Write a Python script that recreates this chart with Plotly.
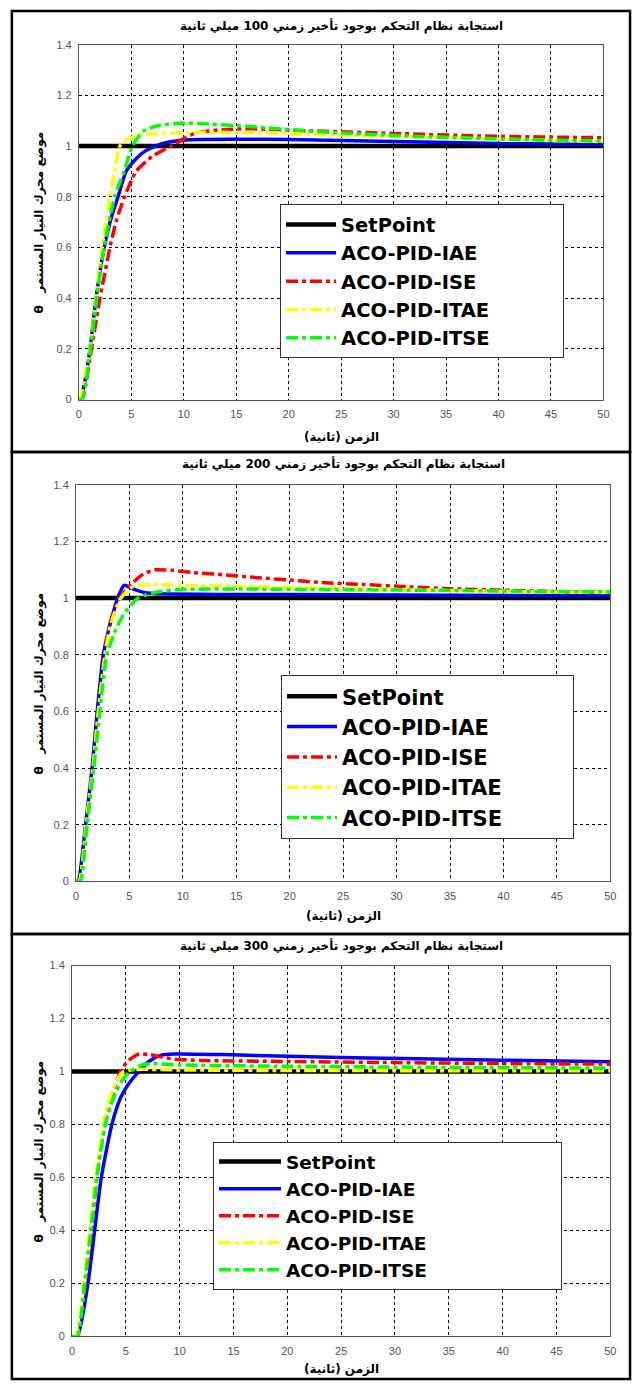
import plotly.graph_objects as go

# ---------------- data ----------------
titles = ["استجابة نظام التحكم بوجود تأخير زمني 100 ميلي ثانية",
          "استجابة نظام التحكم بوجود تأخير زمني 200 ميلي ثانية",
          "استجابة نظام التحكم بوجود تأخير زمني 300 ميلي ثانية"]
x_title = "الزمن (ثانية)"
y_title = "θ   موضع محرك التيار المستمر"
series_names = ["SetPoint", "ACO-PID-IAE", "ACO-PID-ISE", "ACO-PID-ITAE", "ACO-PID-ITSE"]
x_ticks = [0, 5, 10, 15, 20, 25, 30, 35, 40, 45, 50]
y_ticks = [0, 0.2, 0.4, 0.6, 0.8, 1, 1.2, 1.4]

sp_t = [0, 50]
sp_v = [1, 1]

# Panel 1 : delay 100 ms
p1_iae_t = [0, 0.15, 0.6, 1.06, 1.63, 2.41, 3.1, 3.73, 4.5, 5.45, 6.3, 7.3, 8.5, 10.5, 15, 20, 25, 30, 35, 40, 45, 50]
p1_iae_v = [0, 0, 0.08, 0.2, 0.4, 0.6, 0.72, 0.8, 0.9, 0.95, 0.98, 1.0, 1.015, 1.025, 1.027, 1.026, 1.022, 1.018, 1.014, 1.01, 1.008, 1.006]
p1_ise_t = [0, 0.3, 1.2, 2.0, 2.48, 2.95, 3.6, 4.35, 5.45, 7.0, 8.8, 11.0, 14.0, 16.5, 22, 30, 38, 44, 50]
p1_ise_v = [0, 0, 0.2, 0.4, 0.5, 0.6, 0.71, 0.8, 0.9, 0.96, 1.0, 1.05, 1.065, 1.068, 1.06, 1.05, 1.04, 1.036, 1.033]
p1_itae_t = [0, 0.1, 1.06, 1.63, 2.23, 2.95, 3.4, 3.9, 4.7, 6.0, 8.0, 12, 17, 23, 31, 38, 45, 50]
p1_itae_v = [0, 0, 0.2, 0.4, 0.6, 0.8, 0.9, 1.0, 1.03, 1.045, 1.05, 1.054, 1.053, 1.045, 1.037, 1.03, 1.022, 1.018]
p1_itse_t = [0, 0.3, 1.1, 1.69, 2.4, 3.4, 4.3, 5.1, 6.1, 7.5, 9.6, 12, 16, 20, 25, 31, 37, 43, 50]
p1_itse_v = [0, 0, 0.2, 0.4, 0.6, 0.8, 0.9, 1.0, 1.058, 1.08, 1.09, 1.088, 1.078, 1.065, 1.052, 1.04, 1.032, 1.025, 1.02]

# Panel 2 : delay 200 ms
p2_iae_t = [0, 0.2, 0.9, 1.51, 1.99, 2.56, 3.14, 3.5, 3.9, 4.5, 5.5, 6.4, 8, 15, 25, 35, 50]
p2_iae_v = [0, 0, 0.2, 0.4, 0.6, 0.8, 0.9, 0.95, 1.0, 1.045, 1.03, 1.02, 1.015, 1.013, 1.012, 1.01, 1.008]
p2_ise_t = [0, 0.3, 0.95, 1.58, 2.08, 2.66, 3.1, 4.1, 5.2, 6.3, 7.4, 9, 11, 14, 17, 20, 23, 27, 31, 35, 40, 45, 50]
p2_ise_v = [0, 0, 0.2, 0.4, 0.6, 0.8, 0.9, 1.0, 1.05, 1.085, 1.1, 1.098, 1.09, 1.082, 1.072, 1.064, 1.055, 1.048, 1.04, 1.033, 1.028, 1.023, 1.02]
p2_itae_t = [0, 0.3, 0.95, 1.58, 2.1, 2.72, 3.2, 4.2, 5.3, 7, 10, 15, 20, 27, 35, 43, 50]
p2_itae_v = [0, 0, 0.2, 0.4, 0.6, 0.8, 0.9, 1.0, 1.04, 1.048, 1.045, 1.042, 1.038, 1.032, 1.027, 1.022, 1.02]
p2_itse_t = [0, 0.4, 1.03, 1.67, 2.24, 2.88, 3.85, 4.6, 5.8, 7.5, 9.5, 15, 25, 35, 45, 50]
p2_itse_v = [0, 0, 0.2, 0.4, 0.6, 0.8, 0.9, 0.95, 1.0, 1.02, 1.03, 1.032, 1.03, 1.027, 1.023, 1.022]

# Panel 3 : delay 300 ms
p3_iae_t = [0, 0.5, 1.48, 2.1, 2.72, 3.7, 4.5, 5.2, 6.2, 7.2, 8.3, 9.5, 14, 20, 26, 32, 40, 50]
p3_iae_v = [0, 0, 0.2, 0.4, 0.6, 0.8, 0.9, 0.95, 1.0, 1.04, 1.062, 1.066, 1.064, 1.058, 1.052, 1.048, 1.043, 1.037]
p3_ise_t = [0, 0.4, 1.23, 1.79, 2.3, 3.0, 3.64, 4.2, 4.5, 5.2, 6.2, 7.2, 8.3, 9.5, 12, 20, 30, 40, 50]
p3_ise_v = [0, 0, 0.2, 0.4, 0.6, 0.8, 0.9, 0.97, 1.0, 1.04, 1.066, 1.064, 1.055, 1.047, 1.042, 1.038, 1.034, 1.03, 1.028]
p3_itae_t = [0, 0.35, 1.1, 1.64, 2.2, 2.9, 3.5, 4.2, 4.8, 6, 10, 20, 50]
p3_itae_v = [0, 0, 0.2, 0.4, 0.6, 0.8, 0.9, 0.97, 1.0, 1.008, 1.006, 1.004, 1.003]
p3_itse_t = [0, 0.5, 1.17, 1.75, 2.3, 3.1, 3.85, 4.7, 5.4, 6.5, 7.5, 10, 20, 30, 40, 50]
p3_itse_v = [0, 0, 0.2, 0.4, 0.6, 0.8, 0.9, 0.97, 1.0, 1.025, 1.03, 1.025, 1.02, 1.017, 1.015, 1.013]

panels = [
    [(sp_t, sp_v), (p1_iae_t, p1_iae_v), (p1_ise_t, p1_ise_v), (p1_itae_t, p1_itae_v), (p1_itse_t, p1_itse_v)],
    [(sp_t, sp_v), (p2_iae_t, p2_iae_v), (p2_ise_t, p2_ise_v), (p2_itae_t, p2_itae_v), (p2_itse_t, p2_itse_v)],
    [(sp_t, sp_v), (p3_iae_t, p3_iae_v), (p3_ise_t, p3_ise_v), (p3_itae_t, p3_itae_v), (p3_itse_t, p3_itse_v)],
]

# ---------------- styling / layout ----------------
W, H = 638, 1387
colors = ["#000000", "#0000ff", "#ff0000", "#ffff00", "#00ff00"]
widths = [4.5, 3.5, 3.5, 3.5, 3.5]
DD = "12px,4px,4px,4px"
dashes = ["solid", "solid", DD, DD, DD]

# pixel geometry of each panel: (axis left, axis right, axis top, axis bottom)
axes_px = [(77, 609, 39, 397), (74, 616, 483, 883), (70, 616, 968, 1342)]
frames_px = [(9, 636, 5, 450), (9, 636, 450, 936), (9, 636, 936, 1385)]
title_y_px = [20, 462, 948]
xtitle_y_px = [435, 918, 1375]
# legend: left, top, font size, item width, trailing pad (nbsp count)
legend_px = [(281, 200, 19.5, 50, 10), (282, 675, 21, 50, 9), (213, 1146, 18.5, 62, 20)]

def px(x):
    return x / W

def py(y):
    return 1 - y / H

fig = go.Figure()
legend_keys = ["legend", "legend2", "legend3"]
for i, panel in enumerate(panels):
    ax = "" if i == 0 else str(i + 1)
    npad = legend_px[i][4]
    for j, (t, v) in enumerate(panel):
        fig.add_trace(go.Scatter(
            x=t, y=v, mode="lines", name=series_names[j] + "\u00a0" * npad,
            line=dict(color=colors[j], width=widths[j], dash=dashes[j],
                      shape="spline", smoothing=0.6),
            xaxis="x" + ax, yaxis="y" + ax, legend=legend_keys[i],
            hoverinfo="skip"))

layout = dict(width=W, height=H, margin=dict(l=0, r=0, t=0, b=0),
              paper_bgcolor="white", plot_bgcolor="white", showlegend=True)

axis_common = dict(showgrid=True, gridcolor="#000000", gridwidth=1, griddash="3px,3px",
                   showline=True, linecolor="#555555", linewidth=1, mirror=True,
                   zeroline=False, ticks="", fixedrange=True, ticklabelstandoff=4,
                   tickfont=dict(family="Arial, Liberation Sans", size=11, color="#555555"))

annotations = []
shapes = []
for i in range(3):
    l, r, t, b = axes_px[i]
    ax = "" if i == 0 else str(i + 1)
    layout["xaxis" + ax] = dict(axis_common, domain=[px(l), px(r)], range=[0, 50],
                                tickvals=x_ticks, anchor="y" + ax)
    layout["yaxis" + ax] = dict(axis_common, domain=[py(b), py(t)], range=[0, 1.4],
                                tickvals=y_ticks, anchor="x" + ax)
    lx, ly, fs, iw, _ = legend_px[i]
    layout[legend_keys[i]] = dict(x=px(lx), y=py(ly), xanchor="left", yanchor="top",
                                  bgcolor="white", bordercolor="#333333", borderwidth=1,
                                  font=dict(family="DejaVu Sans", size=fs, color="#000000", weight="bold"),
                                  itemwidth=iw, tracegroupgap=0)
    cx = (l + r) / 2
    annotations.append(dict(text="\u202b" + titles[i] + "\u202c", x=px(cx), y=py(title_y_px[i]),
                            xref="paper", yref="paper", showarrow=False,
                            xanchor="center", yanchor="middle",
                            font=dict(family="DejaVu Sans", size=12, color="#000000", weight="bold")))
    annotations.append(dict(text="\u202b" + x_title + "\u202c", x=px(cx), y=py(xtitle_y_px[i]),
                            xref="paper", yref="paper", showarrow=False,
                            xanchor="center", yanchor="middle",
                            font=dict(family="DejaVu Sans", size=12, color="#000000", weight="bold")))
    annotations.append(dict(text=y_title, x=px(37), y=py((t + b) / 2), textangle=-90,
                            xref="paper", yref="paper", showarrow=False,
                            xanchor="center", yanchor="middle",
                            font=dict(family="DejaVu Sans", size=12, color="#000000", weight="bold")))
    fx0, fx1, fy0, fy1 = frames_px[i]
    shapes.append(dict(type="rect", xref="paper", yref="paper",
                       x0=px(fx0), x1=px(fx1), y0=py(fy1), y1=py(fy0),
                       line=dict(color="#000000", width=2.5)))

layout["annotations"] = annotations
layout["shapes"] = shapes
fig.update_layout(**layout)
fig.write_html("out.html", config={"displayModeBar": False},
               post_script="document.body.style.margin='0';document.body.style.padding='0';")
